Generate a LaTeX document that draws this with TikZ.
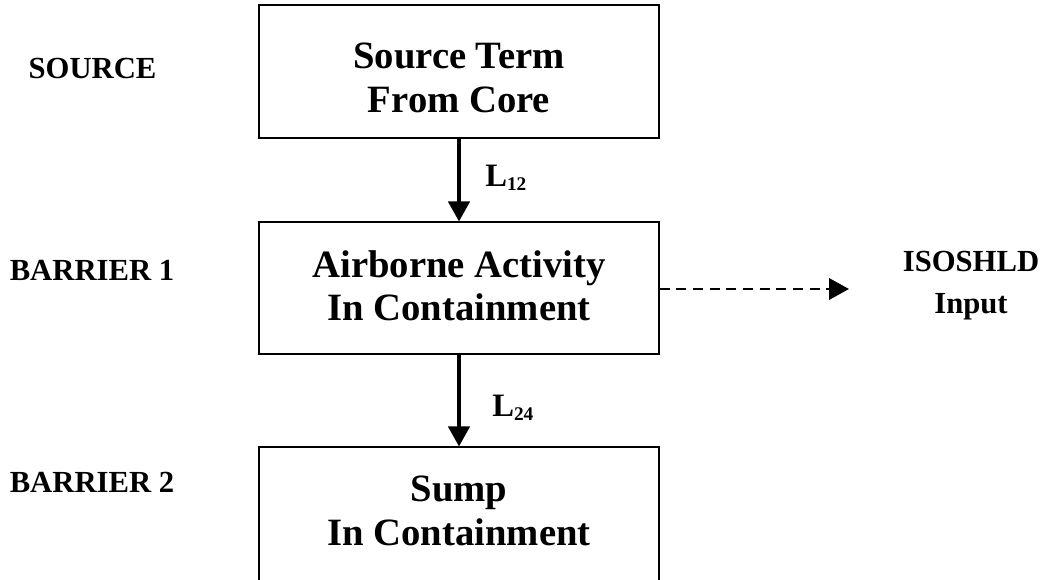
\documentclass[tikz,border=0pt]{standalone}
\usepackage{fontspec}
\setmainfont{Liberation Serif}
\usetikzlibrary{arrows.meta}
\begin{document}
\begin{tikzpicture}[x=0.75pt,y=-0.75pt,
  box/.style={draw=black,line width=0.85pt,minimum width=300pt,inner sep=0pt},
  boxtext/.style={align=center,font=\fontsize{29}{32.5}\selectfont\bfseries,inner sep=0pt},
  side/.style={font=\fontsize{23}{31.5}\selectfont\bfseries,inner sep=0pt,align=center},
  flow/.style={line width=2.6pt,-{Triangle[width=16pt,length=15pt]}},
  feed/.style={line width=1.9pt,dash pattern=on 7.5pt off 5pt,-{Triangle[width=16pt,length=15pt]}},
  lab/.style={font=\fontsize{24.5}{24.5}\selectfont\bfseries,inner sep=0pt,anchor=west}]
\useasboundingbox (0,0) rectangle (1047,579);
\clip (0,0) rectangle (1047,579);
% boxes
\node[box,minimum height=99.75pt] (src) at (459,71.5) {};
\node[box,minimum height=99pt] (air) at (459,288) {};
\node[box,minimum height=120pt] (sump) at (459,527) {};
% box texts
\node[boxtext] (srcT) at (459,78) {Source Term\\From Core};
\node[boxtext] (airT) at (459,286) {Airborne Activity\\In Containment};
\node[boxtext] (sumpT) at (459,511) {Sump\\In Containment};
% side labels
\node[side] (lsrc) at (92.5,68) {SOURCE};
\node[side] (lb1) at (92,270) {BARRIER 1};
\node[side] (lb2) at (92,482) {BARRIER 2};
\node[side] (iso) at (971,286) {ISOSHLD\\Input};
% connectors
\draw[flow] (src.south) -- (air.north);
\draw[flow] (air.south) -- (sump.north);
\coordinate (isoin) at (849,289);
\draw[feed] (air.east |- 0,289) -- (isoin);
% flow labels
\node[lab] (l12) at (485,178) {L\raisebox{-3pt}{\fontsize{14.5}{14.5}\selectfont 12}};
\node[lab] (l24) at (492,408) {L\raisebox{-3pt}{\fontsize{14.5}{14.5}\selectfont 24}};
\end{tikzpicture}
\end{document}
